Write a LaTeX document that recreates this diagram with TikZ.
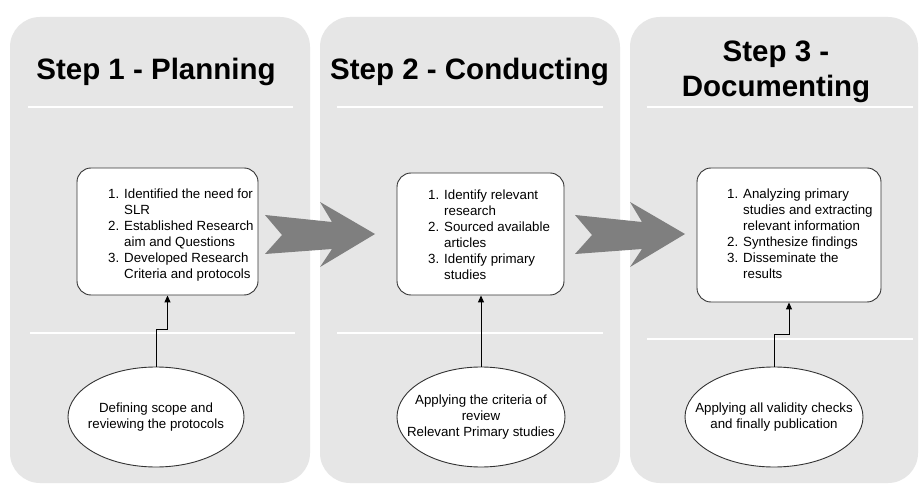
\documentclass[tikz,border=0pt]{standalone}
\usepackage{fontspec}
\setmainfont{Liberation Sans}
\usetikzlibrary{arrows.meta,shapes.geometric}
\definecolor{panelgray}{HTML}{E6E6E6}
\definecolor{arrowgray}{HTML}{7F7F7F}
\definecolor{edgegray}{HTML}{333333}
\begin{document}
\begin{tikzpicture}[x=1bp,y=-1bp,
  panelbox/.style={fill=panelgray,draw=none,rounded corners=30bp},
  sepline/.style={draw=white,line width=1.5bp},
  titletext/.style={font=\fontsize{29.5bp}{35bp}\selectfont\bfseries,inner sep=0,anchor=base},
  listbox/.style={draw=edgegray,fill=white,rounded corners=14bp,line width=0.9bp,inner sep=0},
  listtext/.style={font=\fontsize{13.3bp}{16bp}\selectfont,inner sep=0,anchor=north west},
  oval/.style={ellipse,draw=edgegray,fill=white,line width=0.9bp,inner sep=0,minimum height=100bp,font=\fontsize{13.3bp}{16bp}\selectfont},
  conn/.style={draw=black,line width=1bp,-{Triangle[length=7bp,width=6bp]}},
  bigarrow/.style={fill=arrowgray,draw=none}
]
\useasboundingbox (0,0) rectangle (919,492);
\fill[white] (0,0) rectangle (919,492);

% panels
\fill[panelbox] (10,17) rectangle (310,483);
\fill[panelbox] (320,17) rectangle (620,483);
\fill[panelbox] (630,17) rectangle (918,483);

% separator lines
\draw[sepline] (28,107) -- (293,107);
\draw[sepline] (337,107) -- (603,107);
\draw[sepline] (647,107) -- (913,107);
\draw[sepline] (30,333) -- (295,333);
\draw[sepline] (337,333) -- (603,333);
\draw[sepline] (647,339) -- (913,339);

% titles
\node[titletext] (t1) at (156,80) {Step 1 - Planning};
\node[titletext] (t2) at (469.5,80) {Step 2 - Conducting};
\node[titletext] (t3a) at (776,62) {Step 3 -};
\node[titletext] (t3b) at (776,97) {Documenting};

% big arrows
\fill[bigarrow] (265,215) -- (332,222) -- (320,202) -- (375,234) -- (320,267) -- (332,249) -- (265,254) -- (282,235) -- cycle;
\fill[bigarrow] (575,215) -- (642,222) -- (630,202) -- (685,234) -- (630,267) -- (642,249) -- (575,254) -- (592,235) -- cycle;

% list boxes
\node[listbox,minimum width=181bp,minimum height=127bp] (b1) at (167.5,231.5) {};
\node[listbox,minimum width=167bp,minimum height=122bp] (b2) at (480.5,234) {};
\node[listbox,minimum width=184bp,minimum height=134bp] (b3) at (789,235) {};

\node[listtext] (l1) at (108,187) {\begin{tabular}{@{}r@{ }l@{}}
1.&Identified the need for\\
  &SLR\\
2.&Established Research\\
  &aim and Questions\\
3.&Developed Research\\
  &Criteria and protocols
\end{tabular}};
\node[listtext] (l2) at (428,188) {\begin{tabular}{@{}r@{ }l@{}}
1.&Identify relevant\\
  &research\\
2.&Sourced available\\
  &articles\\
3.&Identify primary\\
  &studies
\end{tabular}};
\node[listtext] (l3) at (727,187) {\begin{tabular}{@{}r@{ }l@{}}
1.&Analyzing primary\\
  &studies and extracting\\
  &relevant information\\
2.&Synthesize findings\\
3.&Disseminate the\\
  &results
\end{tabular}};

% ellipses
\node[oval,minimum width=176bp] (e1) at (156,417) {\makebox[0pt]{\begin{tabular}{@{}c@{}}Defining scope and\\reviewing the protocols\end{tabular}}};
\node[oval,minimum width=168bp] (e2) at (481,417) {\makebox[0pt]{\begin{tabular}{@{}c@{}}Applying the criteria of\\review\\Relevant Primary studies\end{tabular}}};
\node[oval,minimum width=178bp] (e3) at (774,417) {\makebox[0pt]{\begin{tabular}{@{}c@{}}Applying all validity checks\\and finally publication\end{tabular}}};

% connectors
\draw[conn] (e1.north) -- ++(0,-37) -| (b1.south);
\draw[conn] (e2.north) -- (e2.north |- b2.south);
\draw[conn] (e3.north) -- ++(0,-32) -| (b3.south);
\end{tikzpicture}
\end{document}
